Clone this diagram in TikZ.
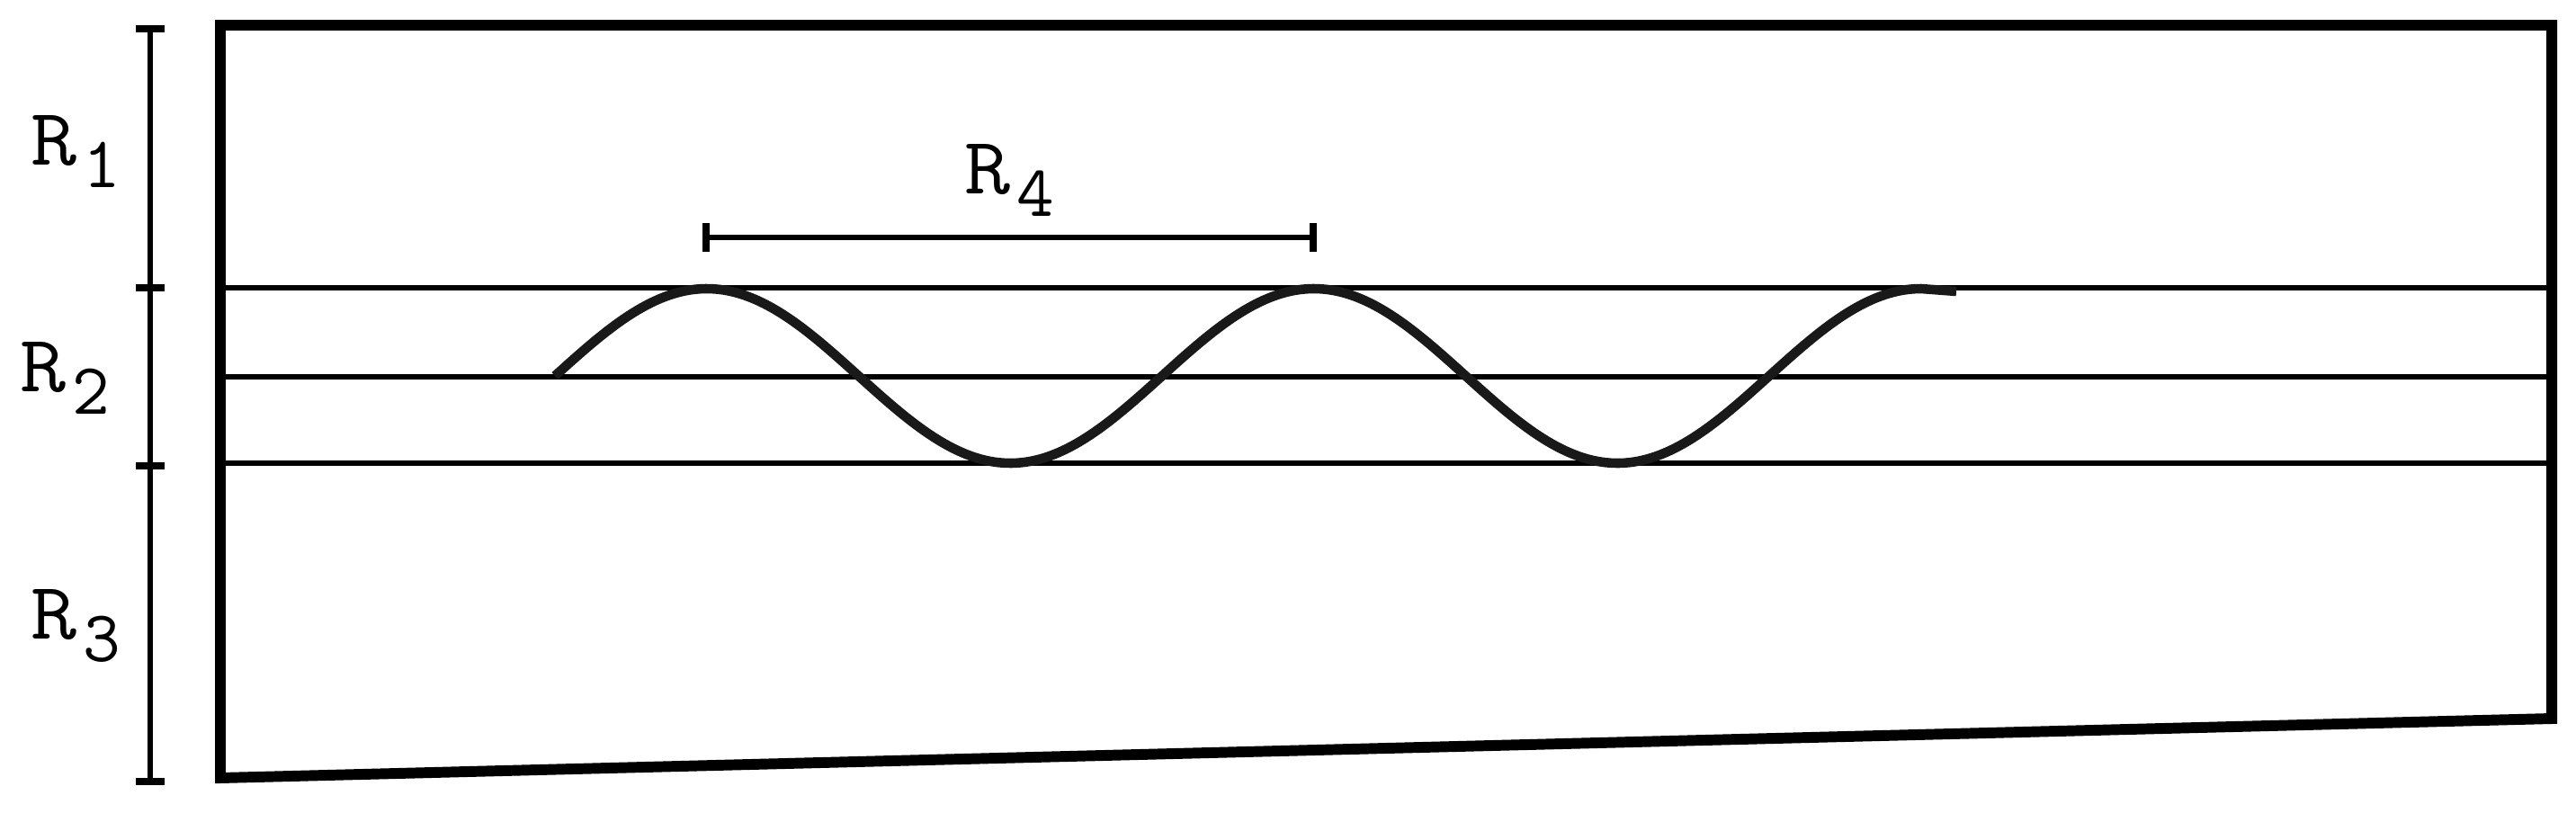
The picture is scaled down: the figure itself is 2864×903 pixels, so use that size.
\documentclass[tikz,border=0pt]{standalone}
\usepackage{graphicx}
\newcommand{\Rlab}[1]{\scalebox{1.1}[1]{R}\kern2pt\lower7.2pt\hbox{\fontsize{23}{26}\selectfont #1}}
\begin{document}
\begin{tikzpicture}[x=0.01cm,y=-0.01cm,
  border/.style={line width=3.4pt, line join=miter},
  layer/.style={line width=1.7pt},
  dimline/.style={line width=1.7pt},
  tick/.style={line width=2.2pt},
  wave/.style={line width=3pt, black!90},
  lab/.style={font=\ttfamily\fontsize{25.6}{30}\selectfont, inner sep=0pt, anchor=base west}]
\useasboundingbox (0,0) rectangle (2864,903);
% outer box
\coordinate (TL) at (245,28);
\coordinate (TR) at (2837,28);
\coordinate (BR) at (2837,799);
\coordinate (BL) at (245,865);
% layer lines
\coordinate (A1) at (245,320); \coordinate (B1) at (2837,320);
\coordinate (A2) at (245,419); \coordinate (B2) at (2837,419);
\coordinate (A3) at (245,515); \coordinate (B3) at (2837,515);
\draw[layer] (A1) -- (B1);
\draw[layer] (A2) -- (B2);
\draw[layer] (A3) -- (B3);
% wave
\coordinate (WE) at (2175,324);
\draw[wave] plot[domain=617:2136, samples=300] (\x,{418-97*sin((\x-617)/675*360)}) -- (WE);
\draw[border] (TL) -- (TR) -- (BR) -- (BL) -- cycle;
% left dimension line
\coordinate (D1) at (167,32);
\coordinate (D2) at (167,320);
\coordinate (D3) at (167,518);
\coordinate (D4) at (167,869);
\draw[dimline] (D1) -- (D4);
\foreach \p in {D1,D2,D3,D4} \draw[tick] ([xshift=-0.16cm]\p) -- ([xshift=0.16cm]\p);
% R4 bar
\coordinate (E1) at (785,264);
\coordinate (E2) at (1460,264);
\draw[dimline] (E1) -- (E2);
\foreach \p in {E1,E2} \draw[tick] ([yshift=-0.16cm]\p) -- ([yshift=0.16cm]\p);
% labels
\node[lab] (R1) at (34,183) {\Rlab{1}};
\node[lab] (R2) at (22,435) {\Rlab{2}};
\node[lab] (R3) at (34,710) {\Rlab{3}};
\node[lab] (R4) at (1072,215) {\Rlab{4}};
\end{tikzpicture}
\end{document}
